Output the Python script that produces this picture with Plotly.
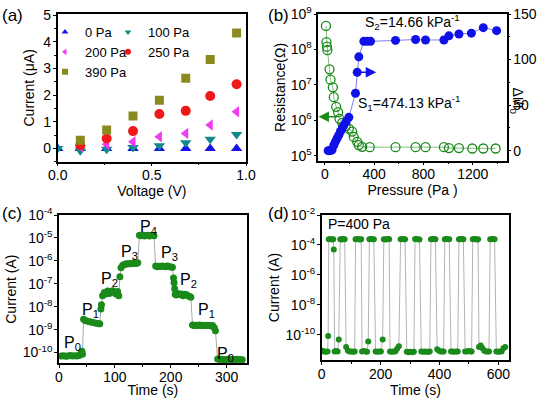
import math
import plotly.graph_objects as go

W, H = 550, 398
FONT = "Liberation Sans, Arial, sans-serif"

# ---------------- (a) I-V curves ----------------
volt_a = [0.0, 0.12, 0.26, 0.40, 0.54, 0.68, 0.81, 0.95]
cur_0pa = [0.0, 0.0, 0.0, 0.0, 0.0, 0.0, 0.0, 0.0]
cur_100pa = [0.0, -0.09, -0.03, 0.03, 0.10, 0.21, 0.34, 0.52]
cur_200pa = [0.07, 0.16, 0.25, 0.44, 0.56, 0.88, 1.38]
cur_250pa = [0.12, 0.37, 0.65, 1.29, 1.41, 1.97, 2.41]
cur_390pa = [0.31, 0.69, 1.22, 1.81, 2.64, 3.34, 4.34]
series_names = ["0 Pa", "100 Pa", "200 Pa", "250 Pa", "390 Pa"]

# ---------------- (b) resistance / sensitivity ----------------
p_res = [8, 12, 16, 20, 37, 45, 64, 72, 91, 107, 118, 140, 167, 194, 221, 234,
         262, 275, 302, 364, 573, 736, 817, 966, 1007, 1088, 1197, 1286, 1386]
resistance = [4.6e8, 1.6e8, 1.2e8, 9.5e7, 2.75e7, 1.4e7, 8.5e6, 4.5e6, 2.4e6,
              1.7e6, 1.1e6, 8.5e5, 6.8e5, 5.8e5, 4.8e5, 3.4e5, 2.45e5, 2.0e5,
              1.78e5, 1.75e5, 1.75e5, 1.75e5, 1.75e5, 1.75e5, 1.65e5, 1.65e5,
              1.6e5, 1.6e5, 1.6e5]
p_dI = [26, 37, 50, 58, 72, 85, 99, 112, 126, 140, 153, 172, 194, 248, 262, 275,
        316, 343, 370, 573, 736, 817, 966, 1007, 1088, 1189, 1286, 1394]
delta_I = [0, 0, 0.5, 1, 6, 10, 13.6, 17, 21, 24.6, 28, 31.8, 36.6, 63, 86, 103,
           120, 120, 120, 121, 122, 121.5, 121.5, 126, 128, 129, 135, 131.7]

# ---------------- (c) stepwise pressure response ----------------
c_time = [4, 8, 12, 16, 20, 24, 28, 32, 36, 39, 41, 42,
          44, 47, 51, 55, 59, 63, 67, 71, 73, 75, 76,
          78, 81, 84, 87, 90, 93, 96, 99, 102, 105, 107, 109,
          111, 114, 117, 120, 123, 126, 129, 132, 135, 138, 141,
          144, 147, 150, 153, 156, 159, 162, 165, 168, 170,
          173, 176, 179, 182, 185, 188, 191, 194, 197, 200, 203, 205, 206, 207, 208,
          210, 213, 216, 219, 222, 225, 228, 231, 234, 236,
          239, 242, 245, 248, 251, 254, 257, 260, 263, 266, 269, 272, 275, 278, 280,
          284, 288, 292, 296, 300, 304, 308, 312, 316, 320, 324, 328]
c_current = [7e-11, 7.3e-11, 6.9e-11, 7.1e-11, 7.4e-11, 7e-11, 7.2e-11, 7.1e-11, 7.5e-11, 9e-11, 1.15e-10, 8.5e-11,
             2.8e-9, 2.5e-9, 2.3e-9, 2.2e-9, 2.1e-9, 2.0e-9, 1.9e-9, 1.8e-9, 1.8e-9, 8e-9, 1.2e-8,
             3e-8, 4.2e-8, 3.6e-8, 4.8e-8, 3.8e-8, 4.2e-8, 5e-8, 4.4e-8, 3.6e-8, 4.6e-8, 3e-8, 2e-7,
             5e-7, 6.5e-7, 7e-7, 7.5e-7, 7.2e-7, 7.6e-7, 7.4e-7, 7.8e-7, 8e-7, 7.7e-7, 8.2e-7,
             1.3e-5, 1.25e-5, 1.3e-5, 1.2e-5, 1.28e-5, 1.3e-5, 1.22e-5, 1.27e-5, 1.3e-5, 1.25e-5,
             6e-7, 5.5e-7, 5.8e-7, 5.6e-7, 6e-7, 5.7e-7, 5.5e-7, 5.9e-7, 5.6e-7, 5.4e-7, 5.2e-7, 1.8e-7, 1.1e-7, 6e-8, 3.5e-8,
             3.2e-8, 3.8e-8, 3.4e-8, 3.6e-8, 3e-8, 3.5e-8, 3.3e-8, 3e-8, 2.8e-8, 2.6e-8,
             1.6e-9, 1.5e-9, 1.55e-9, 1.5e-9, 1.6e-9, 1.5e-9, 1.55e-9, 1.5e-9, 1.5e-9, 1.55e-9, 1.5e-9, 1.45e-9, 1.5e-9, 1.2e-9, 9e-10,
             5.2e-11, 5e-11, 5.1e-11, 4.9e-11, 5e-11, 5.2e-11, 5e-11, 4.9e-11, 5e-11, 5.1e-11, 5e-11, 4.9e-11]
c_labels = ["P<sub>0</sub>", "P<sub>1</sub>", "P<sub>2</sub>", "P<sub>3</sub>", "P<sub>4</sub>",
            "P<sub>3</sub>", "P<sub>2</sub>", "P<sub>1</sub>", "P<sub>0</sub>"]
c_label_t = [25, 57, 91, 127, 161, 197, 232, 264, 298]
c_label_i = [2.4e-10, 6.5e-9, 1.5e-7, 2.2e-6, 2.8e-5, 2.0e-6, 1.35e-7, 6.5e-9, 8e-11]

# ---------------- (d) cycling at 400 Pa ----------------
d_time = [2, 8, 14, 20, 22,
          24, 29, 34, 39, 41,
          44, 49, 54, 58,
          63, 68, 73, 78,
          83, 89, 95, 101, 107, 112,
          115, 120, 125, 130, 134,
          137, 143, 149, 154, 158,
          162, 167, 172, 177,
          183, 189, 195, 201, 207,
          211, 216, 221, 226, 229,
          232, 238, 244, 250, 256, 262,
          268, 273, 278, 283,
          289, 295, 301, 307, 313,
          317, 322, 327, 332,
          338, 344, 350, 356, 362, 367,
          371, 376, 381, 386,
          392, 398, 404, 410, 414,
          418, 423, 428, 433,
          439, 445, 451, 457, 462,
          466, 471, 476, 481,
          487, 493, 499, 505, 509,
          513, 518, 523, 528, 531,
          534, 540, 546, 552, 558, 564, 568,
          572, 577, 582, 587,
          593, 599, 605, 611, 617, 623]
d_current = [9e-12, 8e-12, 7.5e-12, 8e-12, 8.5e-11,
             2.4e-4, 2.5e-4, 2.3e-4, 2.4e-4, 5e-5,
             8e-12, 8.5e-12, 8e-12, 5e-11,
             2.4e-4, 2.3e-4, 2.5e-4, 2.4e-4,
             1.6e-11, 9e-12, 8e-12, 8e-12, 7.5e-12, 8e-12,
             2.4e-4, 2.5e-4, 2.4e-4, 2.3e-4, 2.4e-4,
             8e-12, 8.5e-12, 8e-12, 7.5e-12, 3.6e-11,
             2.4e-4, 2.5e-4, 2.4e-4, 2.4e-4,
             8e-12, 7.5e-12, 8e-12, 8e-12, 5e-11,
             2.4e-4, 2.3e-4, 2.4e-4, 2.5e-4, 2.4e-4,
             8e-12, 7.5e-12, 8e-12, 8e-12, 1.2e-11, 1.8e-11,
             2.4e-4, 2.5e-4, 2.4e-4, 2.4e-4,
             7.5e-12, 7e-12, 7.5e-12, 7e-12, 7.5e-12,
             2.5e-4, 2.4e-4, 2.4e-4, 2.3e-4,
             8e-12, 7.5e-12, 8e-12, 7.5e-12, 7.5e-12, 8e-12,
             2.4e-4, 2.4e-4, 2.5e-4, 2.4e-4,
             1.1e-11, 9e-12, 8e-12, 8e-12, 8e-12,
             2.4e-4, 2.5e-4, 2.4e-4, 2.4e-4,
             8e-12, 8e-12, 7.5e-12, 8e-12, 8e-12,
             2.4e-4, 2.4e-4, 2.5e-4, 2.4e-4,
             8e-12, 8e-12, 8.5e-12, 8e-12, 8e-12,
             2.4e-4, 2.5e-4, 2.4e-4, 2.3e-4, 2.4e-4,
             1.6e-11, 2e-11, 1.3e-11, 9e-12, 8e-12, 8e-12, 8e-12,
             2.4e-4, 2.4e-4, 2.5e-4, 2.4e-4,
             8e-12, 7.5e-12, 8e-12, 8e-12, 1.3e-11, 1.6e-11]


def px(x):
    return x / W


def py(y):
    return 1 - y / H


def dom_x(x0, x1):
    return [px(x0), px(x1)]


def dom_y(top, bottom):
    return [py(bottom), py(top)]


def ax(**kw):
    base = dict(showline=True, linecolor="black", linewidth=1.5, mirror=True,
                ticks="outside", ticklen=3, tickwidth=1.2, tickcolor="black",
                showgrid=False, zeroline=False, automargin=False,
                tickfont=dict(size=14, color="black", family=FONT),
                title_font=dict(size=14, color="black", family=FONT))
    base.update(kw)
    return base


def xax(**kw):
    return ax(ticklabelstandoff=-3, **kw)


def yax(**kw):
    return ax(ticklabelstandoff=-1, **kw)


fig = go.Figure()

# (a)
a_styles = [("triangle-up", "#1414e6", 10), ("triangle-down", "#108a8a", 10),
            ("triangle-left", "#f03cf0", 10), ("circle", "#f01818", 10),
            ("square", "#8a8a1e", 9)]
a_x = [volt_a, volt_a, volt_a[1:], volt_a[1:], volt_a[1:]]
a_y = [cur_0pa, cur_100pa, cur_200pa, cur_250pa, cur_390pa]
a_legend = ["legend", "legend2", "legend", "legend2", "legend"]
for name, xs, ys, (sym, col, size), lg in zip(series_names, a_x, a_y, a_styles, a_legend):
    fig.add_trace(go.Scatter(x=xs, y=ys, mode="markers", name=name, showlegend=False,
                             marker=dict(symbol=sym, color=col, size=size),
                             xaxis="x", yaxis="y"))
    # legend-only entry with the small symbol used in the reference legend
    fig.add_trace(go.Scatter(x=[None], y=[None], mode="markers", name=name,
                             marker=dict(symbol=sym, color=col, size=6),
                             xaxis="x", yaxis="y", legend=lg))

# (b)
fig.add_trace(go.Scatter(x=p_res, y=resistance, mode="lines+markers", showlegend=False,
                         line=dict(color="#7fbf7f", width=1),
                         marker=dict(symbol="circle-open", color="#1a8a1a", size=9,
                                     line=dict(width=1.3, color="#1a8a1a")),
                         xaxis="x2", yaxis="y2"))
fig.add_trace(go.Scatter(x=p_dI, y=delta_I, mode="lines+markers", showlegend=False,
                         line=dict(color="#8080f0", width=1),
                         marker=dict(symbol="circle", color="#1010e8", size=9),
                         xaxis="x2", yaxis="y3"))

# (c)
fig.add_trace(go.Scatter(x=c_time, y=c_current, mode="lines+markers", showlegend=False,
                         line=dict(color="#a8a8a8", width=1),
                         marker=dict(symbol="circle", color="#1a8a1a", size=7),
                         xaxis="x3", yaxis="y4"))

# (d)
fig.add_trace(go.Scatter(x=d_time, y=d_current, mode="lines+markers", showlegend=False,
                         line=dict(color="#b4b4b4", width=1),
                         marker=dict(symbol="circle", color="#1a8a1a", size=6),
                         xaxis="x4", yaxis="y5"))


def pow_text(e):
    return "10<sup>%d</sup>" % e


fig.update_layout(
    template="none",
    width=W, height=H, margin=dict(l=0, r=0, t=0, b=0, autoexpand=False),
    paper_bgcolor="white", plot_bgcolor="white",
    font=dict(family=FONT, size=14, color="black"),
    xaxis=xax(domain=dom_x(57.7, 246), anchor="y", range=[0, 1.0],
              tickvals=[0, 0.5, 1.0], ticktext=["0.0", "0.5", "1.0"],
              minor=dict(ticks="outside", ticklen=2, dtick=0.25, tickcolor="black"),
              title=dict(text="Voltage (V)", standoff=1)),
    yaxis=yax(domain=dom_y(14, 161.7), anchor="x", range=[-0.5, 5.05],
              tickvals=[0, 1, 2, 3, 4, 5],
              minor=dict(ticks="outside", ticklen=2, dtick=0.5, tickcolor="black"),
              title=dict(text="Current (μA)", standoff=5)),
    xaxis2=xax(domain=dom_x(318.3, 506.7), anchor="y2", range=[-54, 1476],
               tickvals=[0, 400, 800, 1200],
               minor=dict(ticks="outside", ticklen=2, dtick=200, tickcolor="black"),
               title=dict(text="Pressure (Pa )", standoff=1)),
    yaxis2=yax(domain=dom_y(14, 160.7), anchor="x2", type="log", range=[4.86, 9.0],
               mirror=False,
               tickvals=[1e5, 1e6, 1e7, 1e8, 1e9], ticktext=[pow_text(e) for e in range(5, 10)],
               title=dict(text="Resistance(Ω)", standoff=2)),
    yaxis3=yax(overlaying="y2", side="right", anchor="x2", range=[-11, 150],
               tickvals=[0, 50, 100, 150], mirror=False,
               minor=dict(ticks="outside", ticklen=2, dtick=25, tickcolor="black")),
    xaxis3=xax(domain=dom_x(59, 246.7), anchor="y4", range=[0, 336],
               tickvals=[0, 100, 200, 300],
               minor=dict(ticks="outside", ticklen=2, dtick=50, tickcolor="black"),
               title=dict(text="Time (s)", standoff=2)),
    yaxis4=yax(domain=dom_y(215, 363.3), anchor="x3", type="log", range=[-10.47, -4.0],
               tickvals=[10.0 ** e for e in range(-10, -3)],
               ticktext=[pow_text(e) for e in range(-10, -3)],
               title=dict(text="Current (A)", standoff=3)),
    xaxis4=xax(domain=dom_x(321.7, 509.3), anchor="y5", range=[0, 637],
               tickvals=[0, 200, 400, 600],
               minor=dict(ticks="outside", ticklen=2, dtick=100, tickcolor="black"),
               title=dict(text="Time (s)", standoff=2)),
    yaxis5=yax(domain=dom_y(215, 360), anchor="x4", type="log", range=[-11.67, -2.0],
               tickvals=[10.0 ** e for e in range(-10, -1, 2)],
               ticktext=[pow_text(e) for e in range(-10, -1, 2)],
               title=dict(text="Current (A)", standoff=3)),
    legend=dict(x=px(45), y=py(17), xanchor="left", yanchor="top",
                bgcolor="rgba(0,0,0,0)", font=dict(size=13, family=FONT),
                tracegroupgap=0, itemsizing="trace"),
    legend2=dict(x=px(108), y=py(17), xanchor="left", yanchor="top",
                 bgcolor="rgba(0,0,0,0)", font=dict(size=13, family=FONT),
                 tracegroupgap=0, itemsizing="trace"),
)

annotations = []
# panel labels
for txt, lx, ly in [("(a)", 12, 16), ("(b)", 278, 16), ("(c)", 12, 213), ("(d)", 278, 213)]:
    annotations.append(dict(text=txt, x=px(lx), y=py(ly), xref="paper", yref="paper",
                            showarrow=False, font=dict(size=17, family=FONT),
                            xanchor="center", yanchor="middle"))
# (b) texts
annotations.append(dict(text="S<sub>2</sub>=14.66 kPa<sup>-1</sup>", x=709, y=141,
                        xref="x2", yref="y3", showarrow=False, font=dict(size=14)))
annotations.append(dict(text="S<sub>1</sub>=474.13 kPa<sup>-1</sup>", x=687, y=52,
                        xref="x2", yref="y3", showarrow=False, font=dict(size=14)))
annotations.append(dict(text="ΔI/I<sub>0</sub>", x=px(527), y=py(85), xref="paper",
                        yref="paper", showarrow=False, textangle=90, font=dict(size=14)))
# arrows in (b)
annotations.append(dict(text="", x=416, y=86, xref="x2", yref="y3", showarrow=True,
                        ax=-18, ay=0, arrowhead=2, arrowsize=1.3, arrowwidth=1.6,
                        arrowcolor="#1010e8"))
annotations.append(dict(text="", x=-52, y=math.log10(1.26e6), xref="x2", yref="y2",
                        showarrow=True, ax=20, ay=0, arrowhead=2, arrowsize=1.3,
                        arrowwidth=1.6, arrowcolor="#1a8a1a"))
# (c) pressure labels
for txt, t, i in zip(c_labels, c_label_t, c_label_i):
    annotations.append(dict(text=txt, x=t, y=math.log10(i), xref="x3", yref="y4",
                            showarrow=False, font=dict(size=16)))
# (d) label
annotations.append(dict(text="P=400 Pa", x=14, y=-2.6, xref="x4", yref="y5",
                        xanchor="left", showarrow=False, font=dict(size=14)))
fig.update_layout(annotations=annotations)

# remove the browser's default 8 px body margin so the figure fills the window
fig.write_html("out.html", config={"displayModeBar": False},
               post_script="document.body.style.margin='0px';document.body.style.padding='0px';")
